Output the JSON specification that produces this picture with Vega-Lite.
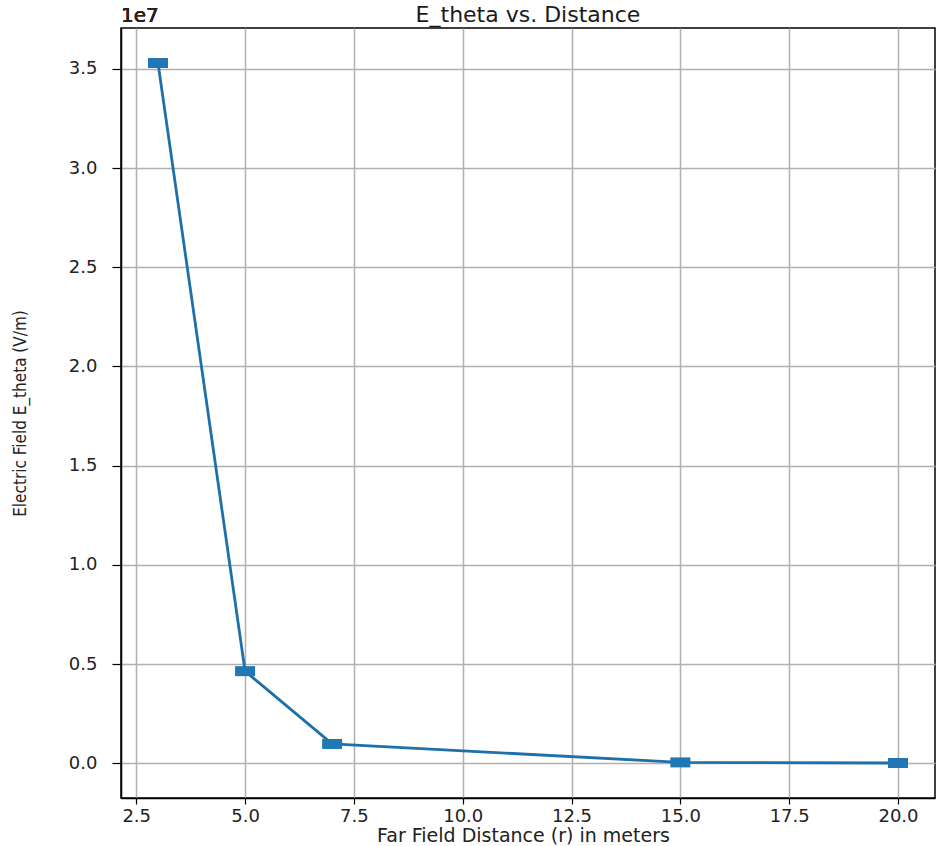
{
  "$schema": "https://vega.github.io/schema/vega-lite/v6.json",
  "autosize": {"type": "none"},
  "width": 814,
  "height": 770,
  "padding": {"left": 121, "top": 28, "right": 3, "bottom": 48},
  "background": "white",
  "title": {
    "text": "E_theta vs. Distance",
    "font": "DejaVu Sans",
    "fontSize": 22,
    "fontWeight": "normal",
    "color": "#1a1a1a",
    "anchor": "middle",
    "baseline": "alphabetic",
    "offset": 0,
    "dy": 38
  },
  "config": {
    "view": {"stroke": "black", "strokeWidth": 1.5},
    "axis": {
      "labelFont": "DejaVu Sans",
      "labelFontSize": 18,
      "labelColor": "#222222",
      "domainColor": "black",
      "domainWidth": 1.5,
      "tickColor": "black",
      "tickWidth": 1.2,
      "gridColor": "#b0b0b0",
      "gridWidth": 1.5,
      "gridOpacity": 1
    }
  },
  "data": {
    "values": [
      {"r": 3, "E": 35300000},
      {"r": 5, "E": 4640000},
      {"r": 7, "E": 970000},
      {"r": 15, "E": 40000},
      {"r": 20, "E": 10000}
    ]
  },
  "encoding": {
    "x": {
      "field": "r",
      "type": "quantitative",
      "scale": {"domain": [2.15, 20.85], "nice": false, "zero": false},
      "axis": {
        "values": [2.5, 5, 7.5, 10, 12.5, 15, 17.5, 20],
        "format": ".1f",
        "tickSize": 6,
        "labelPadding": 3,
        "title": "Far Field Distance (r) in meters",
        "titleFont": "DejaVu Sans",
        "titleFontSize": 19,
        "titleFontWeight": "normal",
        "titleColor": "#222222",
        "titleBaseline": "alphabetic",
        "titleX": 402,
        "titleY": 43,
        "titleAlign": "center"
      }
    },
    "y": {
      "field": "E",
      "type": "quantitative",
      "scale": {"domain": [-1755000, 37065000], "nice": false, "zero": false},
      "axis": {
        "values": [0, 5000000, 10000000, 15000000, 20000000, 25000000, 30000000, 35000000],
        "labelExpr": "format(datum.value / 10000000, '.1f')",
        "tickSize": 9,
        "labelPadding": 15,
        "title": "Electric Field E_theta (V/m)",
        "titleFont": "Liberation Sans Narrow, DejaVu Sans Condensed, Roboto Condensed, sans-serif",
        "titleFontSize": 17,
        "titleFontWeight": "normal",
        "titleColor": "#222222",
        "titleAngle": -90,
        "titleAlign": "center",
        "titleBaseline": "middle",
        "titleX": -101,
        "titleY": 385
      }
    }
  },
  "layer": [
    {
      "mark": {"type": "line", "color": "#1f6fa8", "strokeWidth": 2.8}
    },
    {
      "mark": {
        "type": "point",
        "shape": "M-1,-0.5L1,-0.5L1,0.5L-1,0.5Z",
        "filled": true,
        "color": "#1f77b4",
        "opacity": 1,
        "size": 400
      }
    },
    {
      "mark": {
        "type": "text",
        "text": "1e7",
        "font": "DejaVu Sans",
        "fontSize": 20,
        "fontWeight": "normal",
        "color": "#222222",
        "align": "left",
        "baseline": "alphabetic",
        "dy": -6
      },
      "encoding": {
        "x": {"datum": 2.15, "type": "quantitative"},
        "y": {"datum": 37065000, "type": "quantitative"}
      }
    }
  ]
}
